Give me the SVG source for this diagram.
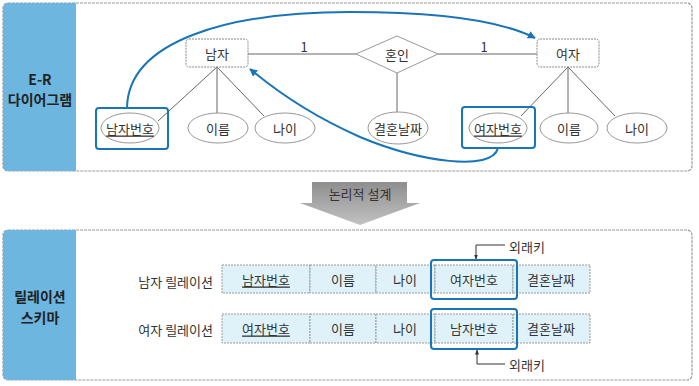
<svg xmlns="http://www.w3.org/2000/svg" width="699" height="386" viewBox="0 0 699 386">
<defs>
<style>
text{font-family:"Noto Sans CJK KR","Noto Sans",sans-serif;fill:#333;font-size:13px;text-anchor:middle;dominant-baseline:central}
.panel{fill:#fff;stroke:#9a9a9a;stroke-width:1.2;stroke-dasharray:3 1}
.side{fill:#6cb6e0}
.side-t{font-size:14px;font-weight:bold;fill:#222}
.ent{fill:#fff;stroke:#888;stroke-width:1;stroke-dasharray:2 1}
.att{fill:#fff;stroke:#999;stroke-width:1}
.ln{stroke:#666;stroke-width:1;fill:none}
.key{fill:none;stroke:#1a74b8;stroke-width:2}
.cur{fill:none;stroke:#1a74b8;stroke-width:2}
.cell{fill:#dff2fa;stroke:#999;stroke-width:1;stroke-dasharray:2 1}
.u{text-decoration:underline}
.lab{text-anchor:start}
</style>
<marker id="ab" viewBox="0 0 10 10" refX="9" refY="5" markerWidth="4" markerHeight="4" orient="auto"><path d="M0,0 L10,5 L0,10 Z" fill="#1a74b8"/></marker>
<marker id="ak" viewBox="0 0 10 10" refX="9" refY="5" markerWidth="5" markerHeight="5" orient="auto"><path d="M0,1 L10,5 L0,9 Z" fill="#333"/></marker>
<linearGradient id="g" x1="0" y1="0" x2="0" y2="1"><stop offset="0" stop-color="#8e8e8e"/><stop offset="1" stop-color="#c2c2c2"/></linearGradient>
</defs>

<g id="panel-er">
<rect class="panel" x="3" y="3" width="689" height="168" rx="5"/>
<path class="side" d="M8,3 H76 V171 H8 A5,5 0 0 1 3,166 V8 A5,5 0 0 1 8,3 Z"/>
<text class="side-t" x="40" y="79">E-R</text>
<text class="side-t" x="40" y="99">다이어그램</text>
</g>

<g id="panel-rel">
<rect class="panel" x="3" y="230" width="689" height="150" rx="5"/>
<path class="side" d="M8,230 H76 V380 H8 A5,5 0 0 1 3,375 V235 A5,5 0 0 1 8,230 Z"/>
<text class="side-t" x="40" y="296">릴레이션</text>
<text class="side-t" x="40" y="317">스키마</text>
</g>

<g id="connectors">
<line class="ln" x1="248" y1="54" x2="356" y2="54"/>
<line class="ln" x1="438" y1="54" x2="537" y2="54"/>
<text x="304" y="46" font-size="12">1</text>
<text x="484" y="46" font-size="12">1</text>
<line class="ln" x1="397" y1="73" x2="397" y2="112"/>
<line class="ln" x1="217" y1="67" x2="158" y2="121"/>
<line class="ln" x1="217" y1="67" x2="217" y2="113"/>
<line class="ln" x1="217" y1="67" x2="264" y2="116"/>
<line class="ln" x1="568" y1="67" x2="521" y2="116"/>
<line class="ln" x1="568" y1="67" x2="568" y2="113"/>
<line class="ln" x1="568" y1="67" x2="615" y2="116"/>
<path class="cur" d="M127,108 C128,40 230,12 350,12 C440,12 500,20 535,38" marker-end="url(#ab)"/>
<path class="cur" d="M498,148 C492,172 420,162 360,137 C310,115 275,90 250,69" marker-end="url(#ab)"/>
<path d="M505,245 H476 V259" fill="none" stroke="#333" stroke-width="1" marker-end="url(#ak)"/>
<path d="M505,364 H477 V350" fill="none" stroke="#333" stroke-width="1" marker-end="url(#ak)"/>
</g>

<g id="node-man">
<rect class="ent" x="186" y="39" width="62" height="28" rx="3"/>
<text x="217" y="53">남자</text>
</g>
<g id="node-woman">
<rect class="ent" x="537" y="39" width="62" height="28" rx="3"/>
<text x="568" y="53">여자</text>
</g>
<g id="node-marriage">
<polygon points="356,54 397,36 438,54 397,73" fill="#fff" stroke="#999" stroke-width="1"/>
<text x="397" y="54">혼인</text>
</g>
<g id="node-man-no">
<rect class="key" x="96" y="108" width="72" height="41" rx="3"/>
<ellipse class="att" cx="130" cy="128" rx="29" ry="15"/>
<text class="u" x="130" y="128">남자번호</text>
</g>
<g id="node-man-name">
<ellipse class="att" cx="218" cy="128" rx="30" ry="15"/>
<text x="218" y="128">이름</text>
</g>
<g id="node-man-age">
<ellipse class="att" cx="285" cy="128" rx="30" ry="15"/>
<text x="285" y="128">나이</text>
</g>
<g id="node-date">
<ellipse class="att" cx="398" cy="128" rx="30" ry="16"/>
<text x="398" y="128">결혼날짜</text>
</g>
<g id="node-woman-no">
<rect class="key" x="462" y="107" width="73" height="41" rx="3"/>
<ellipse class="att" cx="498" cy="128" rx="29" ry="15"/>
<text class="u" x="498" y="128">여자번호</text>
</g>
<g id="node-woman-name">
<ellipse class="att" cx="569" cy="128" rx="29" ry="15"/>
<text x="569" y="128">이름</text>
</g>
<g id="node-woman-age">
<ellipse class="att" cx="637" cy="128" rx="30" ry="15"/>
<text x="637" y="128">나이</text>
</g>

<g id="node-design">
<path d="M312,182 H407 V203 H420 L360,225 L300,203 H312 Z" fill="url(#g)"/>
<text x="360" y="193" font-size="12">논리적 설계</text>
</g>

<g id="node-rel-man">
<text x="213" y="281" style="text-anchor:end">남자 릴레이션</text>
<rect class="cell" x="222" y="265" width="88" height="28"/>
<rect class="cell" x="310" y="265" width="66" height="28"/>
<rect class="cell" x="376" y="265" width="59" height="28"/>
<rect class="cell" x="435" y="265" width="78" height="28"/>
<rect class="cell" x="513" y="265" width="77" height="28"/>
<text class="u" x="266" y="279">남자번호</text>
<text x="343" y="279">이름</text>
<text x="405" y="279">나이</text>
<text x="474" y="279">여자번호</text>
<text x="551" y="279">결혼날짜</text>
<rect class="key" x="431" y="260" width="86" height="39" rx="3"/>
</g>
<g id="node-rel-woman">
<text x="213" y="329" style="text-anchor:end">여자 릴레이션</text>
<rect class="cell" x="222" y="314" width="88" height="29"/>
<rect class="cell" x="310" y="314" width="66" height="29"/>
<rect class="cell" x="376" y="314" width="59" height="29"/>
<rect class="cell" x="435" y="314" width="78" height="29"/>
<rect class="cell" x="513" y="314" width="77" height="29"/>
<text class="u" x="266" y="328">여자번호</text>
<text x="343" y="328">이름</text>
<text x="405" y="328">나이</text>
<text x="474" y="328">남자번호</text>
<text x="551" y="328">결혼날짜</text>
<rect class="key" x="431" y="309" width="86" height="40" rx="3"/>
</g>
<g id="node-fk-top">
<text class="lab" x="509" y="246" font-size="14">외래키</text>
</g>
<g id="node-fk-bottom">
<text class="lab" x="509" y="364" font-size="14">외래키</text>
</g>
</svg>
